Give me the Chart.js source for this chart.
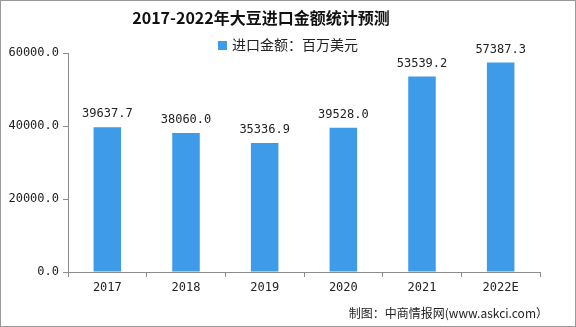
<!DOCTYPE html>
<html>
<head>
<meta charset="utf-8">
<script src="https://cdn.jsdelivr.net/npm/chart.js@4/dist/chart.umd.min.js"></script>
<style>
  html, body { margin: 0; padding: 0; background: #fff; }
  #wrap { width: 576px; height: 327px; }
</style>
</head>
<body>
<div id="wrap"><canvas id="myChart" width="576" height="327"></canvas></div>
<script>
// chart data
const years = ['2017', '2018', '2019', '2020', '2021', '2022E'];
const importValues = [39637.7, 38060.0, 35336.9, 39528.0, 53539.2, 57387.3];
const yTicks = [0, 20000, 40000, 60000];
const seriesName = '进口金额：百万美元';
const titleText = '2017-2022年大豆进口金额统计预测';
const sourceText = '制图：中商情报网(www.askci.com）';

const barColor = '#3d9bea';
const axisColor = '#8c8c8c';
const monoFont = '"DejaVu Sans Mono", "Liberation Mono", monospace';
const cjkFont = '"Noto Sans CJK SC", "Noto Sans", sans-serif';

// title, legend, footer, value labels, frame
const decorPlugin = {
    id: 'decor',
    afterDatasetsDraw(chart) {
        const ctx = chart.ctx;
        ctx.save();
        // value labels above bars
        const meta = chart.getDatasetMeta(0);
        ctx.font = '12px ' + monoFont;
        ctx.fillStyle = '#222';
        ctx.textAlign = 'center';
        ctx.textBaseline = 'alphabetic';
        meta.data.forEach(function(bar, i) {
            ctx.fillText(importValues[i].toFixed(1), bar.x, bar.y - 10);
        });
        // title
        ctx.font = 'bold 16px ' + cjkFont;
        ctx.fillStyle = '#111';
        ctx.textBaseline = 'middle';
        ctx.fillText(titleText, 261, 18);
        // legend
        ctx.fillStyle = barColor;
        ctx.fillRect(218, 41, 9, 9);
        ctx.font = '14px ' + cjkFont;
        ctx.fillStyle = '#222';
        ctx.textAlign = 'left';
        ctx.fillText(seriesName, 232, 45);
        // footer
        ctx.font = '12px ' + cjkFont;
        ctx.textAlign = 'right';
        ctx.fillText(sourceText, 548, 313);
        // frame
        ctx.strokeStyle = '#999';
        ctx.lineWidth = 1;
        ctx.strokeRect(0.5, 0.5, chart.width - 1, chart.height - 1);
        ctx.restore();
    }
};

const data = {
    labels: years,
    datasets: [{
        label: seriesName,
        data: importValues,
        backgroundColor: barColor,
        categoryPercentage: 1.0,
        barPercentage: 0.35
    }]
};

const config = {
    type: 'bar',
    data: data,
    options: {
        responsive: false,
        animation: false,
        layout: {
            padding: { top: 53, right: 36, bottom: 0, left: 0 }
        },
        scales: {
            x: {
                offset: true,
                border: { color: axisColor },
                grid: {
                    offset: true,
                    drawOnChartArea: false,
                    tickLength: 5,
                    color: axisColor
                },
                ticks: {
                    color: '#222',
                    font: { family: monoFont, size: 12 },
                    padding: 4
                },
                afterFit: function(scale) { scale.height = 55; }
            },
            y: {
                min: 0,
                max: 60000,
                border: { color: axisColor },
                grid: {
                    drawOnChartArea: false,
                    tickLength: 5,
                    color: axisColor
                },
                afterBuildTicks: function(scale) {
                    scale.ticks = yTicks.map(function(v) { return { value: v }; });
                },
                ticks: {
                    color: '#222',
                    font: { family: monoFont, size: 12 },
                    padding: 4,
                    callback: function(value) { return Number(value).toFixed(1); }
                },
                afterFit: function(scale) { scale.width = 68; }
            }
        },
        plugins: {
            legend: { display: false },
            tooltip: { enabled: false },
            title: { display: false }
        }
    },
    plugins: [decorPlugin]
};

const ctx = document.getElementById('myChart').getContext('2d');
const myChart = new Chart(ctx, config);
</script>
</body>
</html>
